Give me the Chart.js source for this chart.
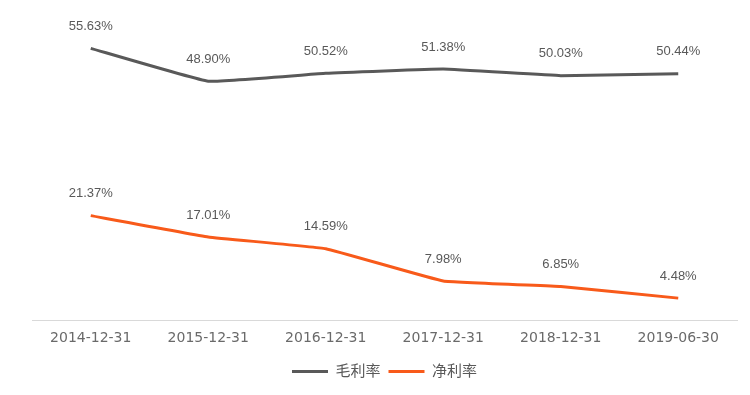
<!DOCTYPE html>
<html>
<head>
<meta charset="utf-8">
<script src="https://cdn.jsdelivr.net/npm/chart.js@4"></script>
<style>
  html, body { margin: 0; padding: 0; background: #fff; }
  #wrap { width: 750px; height: 395px; }
</style>
</head>
<body>
<div id="wrap"><canvas id="chart" width="750" height="395"></canvas></div>
<script>
// data
const dates = ["2014-12-31", "2015-12-31", "2016-12-31", "2017-12-31", "2018-12-31", "2019-06-30"];
const grossMargin = [55.63, 48.90, 50.52, 51.38, 50.03, 50.44]; // 毛利率
const netMargin = [21.37, 17.01, 14.59, 7.98, 6.85, 4.48];      // 净利率

const FONT = '"Liberation Sans", "Noto Sans CJK SC", sans-serif';
const TICK_FONT = '"DejaVu Sans", sans-serif';
const TEXT_COLOR = "#595959";

// draws the value above each point (no datalabels plugin here)
const valueLabels = {
    id: "valueLabels",
    afterDatasetsDraw(chart) {
        const ctx = chart.ctx;
        ctx.save();
        ctx.font = "13px " + FONT;
        ctx.fillStyle = TEXT_COLOR;
        ctx.textAlign = "center";
        ctx.textBaseline = "middle";
        chart.data.datasets.forEach((ds, i) => {
            const meta = chart.getDatasetMeta(i);
            meta.data.forEach((pt, j) => {
                ctx.fillText(ds.data[j].toFixed(2) + "%", pt.x, pt.y - 22);
            });
        });
        ctx.restore();
    }
};

new Chart(document.getElementById("chart"), {
    type: "line",
    data: {
        labels: dates,
        datasets: [
            {
                label: "毛利率",
                data: grossMargin,
                borderColor: "#595959",
                backgroundColor: "#595959",
                borderWidth: 3,
                pointRadius: 0,
                tension: 0.08,
                borderJoinStyle: "round"
            },
            {
                label: "净利率",
                data: netMargin,
                borderColor: "#f85a1a",
                backgroundColor: "#f85a1a",
                borderWidth: 3,
                pointRadius: 0,
                tension: 0.08,
                borderJoinStyle: "round"
            }
        ]
    },
    options: {
        responsive: false,
        animation: false,
        layout: { padding: { left: 32, right: 13, top: 27, bottom: 6 } },
        scales: {
            x: {
                offset: true,
                grid: { display: false, drawTicks: false },
                border: { display: true, color: "#d9d9d9", width: 1 },
                ticks: { color: "#6a6a6a", font: { family: TICK_FONT, size: 14, lineHeight: 1.0 }, padding: 11, maxRotation: 0 }
            },
            y: {
                display: false,
                min: 0,
                max: 60
            }
        },
        plugins: {
            legend: {
                position: "bottom",
                labels: {
                    boxWidth: 36,
                    boxHeight: 3,
                    padding: 8,
                    color: TEXT_COLOR,
                    font: { family: FONT, size: 15 },
                    generateLabels: chart => Chart.defaults.plugins.legend.labels.generateLabels(chart)
                        .map(l => Object.assign(l, { lineWidth: 0, fillStyle: l.strokeStyle }))
                }
            },
            tooltip: { enabled: false }
        }
    },
    plugins: [valueLabels]
});
</script>
</body>
</html>
